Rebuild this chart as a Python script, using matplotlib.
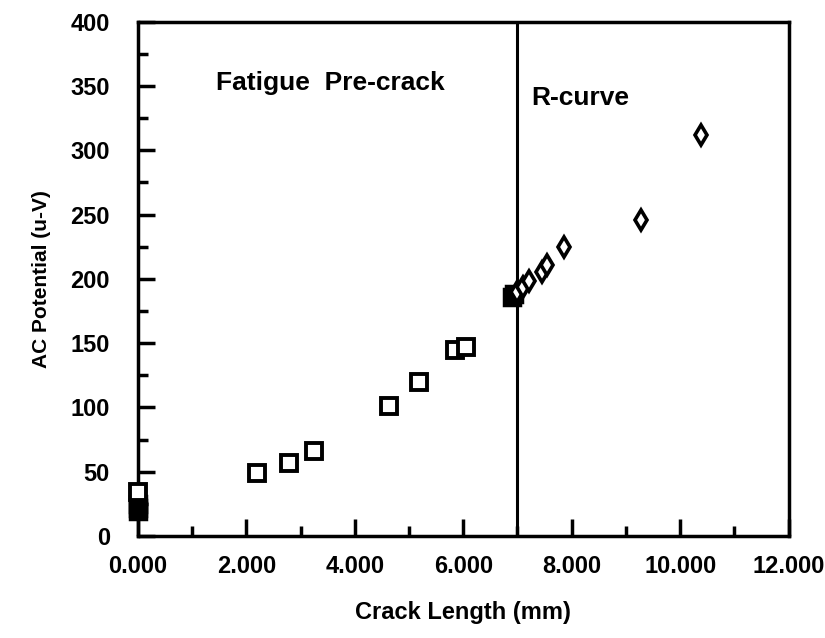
import matplotlib
matplotlib.use("Agg")
import matplotlib.pyplot as plt
from matplotlib.ticker import MultipleLocator, FormatStrFormatter

# fatigue pre-crack data (open squares)
pre_x = [0.0, 2.19, 2.78, 3.24, 4.63, 5.18, 5.84, 6.05]
pre_y = [34, 49, 57, 66, 101, 120, 145, 147]

# overlapping points that print as solid squares
dense_x = [0.0, 0.0, 0.0, 6.90, 6.93]
dense_y = [19, 22, 25, 186, 188]

# R-curve data (diamonds)
r_x = [7.00, 7.10, 7.22, 7.45, 7.54, 7.85, 9.27, 10.38]
r_y = [190, 194, 198, 205, 211, 225, 246, 312]

plt.rcParams['font.family'] = ['Liberation Sans', 'DejaVu Sans']
plt.rcParams['font.weight'] = 'bold'

fig = plt.figure(figsize=(8.25, 6.38), dpi=100)
ax = fig.add_axes([0.167, 0.160, 0.789, 0.806])

ax.plot(dense_x, dense_y, 's', ms=11, mfc='black', mec='black', mew=2.5,
        ls='none', clip_on=False, zorder=3)
ax.plot(pre_x, pre_y, 's', ms=11, mfc='white', mec='black', mew=2.8,
        ls='none', clip_on=False, zorder=4)
ax.plot(r_x, r_y, 'd', ms=10, mfc='white', mec='black', mew=2.6,
        ls='none', clip_on=False, zorder=4)

ax.axvline(7.0, color='black', lw=2.2)

ax.set_xlim(0, 12)
ax.set_ylim(0, 400)
ax.xaxis.set_major_locator(MultipleLocator(2))
ax.xaxis.set_minor_locator(MultipleLocator(1))
ax.yaxis.set_major_locator(MultipleLocator(50))
ax.yaxis.set_minor_locator(MultipleLocator(25))
ax.xaxis.set_major_formatter(FormatStrFormatter('%.3f'))

ax.tick_params(which='major', direction='in', length=12, width=2.5, labelsize=17)
ax.tick_params(which='minor', direction='in', length=7, width=2.5)
ax.tick_params(top=False, right=False, which='both')
ax.tick_params(axis='x', pad=14)
ax.tick_params(axis='y', pad=20)
for lbl in ax.get_xticklabels() + ax.get_yticklabels():
    lbl.set_fontweight('bold')

for sp in ax.spines.values():
    sp.set_linewidth(2.5)

ax.text(3.55, 352, "Fatigue  Pre-crack", fontsize=19, fontweight='bold',
        ha='center', va='center')
ax.text(8.15, 341, "R-curve", fontsize=19, fontweight='bold',
        ha='center', va='center')

ax.set_xlabel("Crack Length (mm)", fontsize=17, fontweight='bold', labelpad=16)
ax.set_ylabel("AC Potential (u-V)", fontsize=15, fontweight='bold', labelpad=14)

fig.savefig("out.png", dpi=100)
